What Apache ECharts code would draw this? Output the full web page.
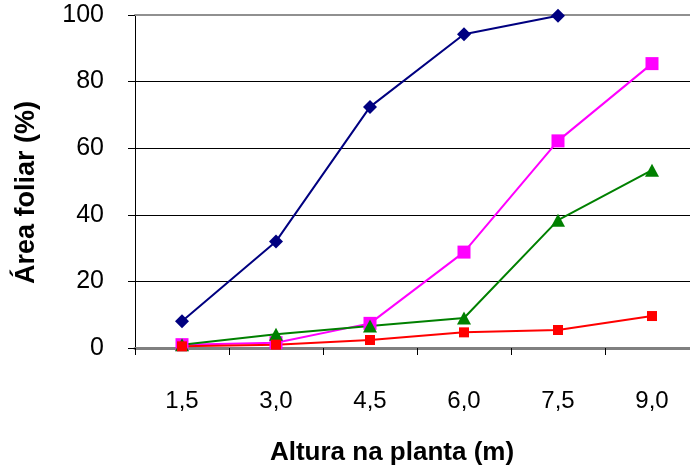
<!DOCTYPE html>
<html>
<head>
<meta charset="utf-8">
<script src="https://cdn.jsdelivr.net/npm/echarts@6/dist/echarts.min.js"></script>
<style>
  html, body { margin: 0; padding: 0; background: #ffffff; }
  #chart { width: 690px; height: 468px; }
</style>
</head>
<body>
<div id="chart"></div>
<script>
// Heights along the plant (m)
var categories = ['1,5', '3,0', '4,5', '6,0', '7,5', '9,0'];
var yTicks = [0, 20, 40, 60, 80, 100];

// Leaf area (%) per series
var serieAzul = [8, 32, 72.4, 94.2, 99.8, null];
var serieMagenta = [1, 1.6, 7.4, 28.8, 62.2, 85.4];
var serieVerde = [1, 4.1, 6.6, 9, 38.4, 53.4];
var serieVermelha = [0.5, 1, 2.4, 4.7, 5.4, 9.6];

var font = '"Liberation Sans", Arial, sans-serif';

var chart = echarts.init(document.getElementById('chart'), null, { renderer: 'canvas' });

function lineSeries(name, data, color, symbol, size) {
  return {
    name: name,
    type: 'line',
    data: data,
    symbol: symbol,
    symbolSize: size,
    showSymbol: true,
    connectNulls: false,
    lineStyle: { color: color, width: 2 },
    itemStyle: { color: color, borderWidth: 0, opacity: 1 },
    emphasis: { disabled: true },
    animation: false,
    z: 3
  };
}

chart.setOption({
  backgroundColor: '#ffffff',
  animation: false,
  grid: { left: 135, right: -9, top: 15, bottom: 120, containLabel: false, outerBoundsMode: 'none' },
  xAxis: [{
    type: 'category',
    data: categories,
    boundaryGap: true,
    position: 'bottom',
    name: 'Altura na planta (m)',
    nameLocation: 'middle',
    nameGap: 92,
    nameTextStyle: { fontFamily: font, fontSize: 26, fontWeight: 'bold', color: '#000', padding: [0, 50, 0, 0] },
    axisLine: { show: true, lineStyle: { color: '#808080', width: 3 } },
    axisTick: { show: true, alignWithLabel: false, length: 7, lineStyle: { color: '#000', width: 1 } },
    axisLabel: { margin: 41, fontFamily: font, fontSize: 24, color: '#000' },
    splitLine: { show: false }
  }, {
    type: 'category',
    data: categories,
    position: 'top',
    axisLine: { show: true, lineStyle: { color: '#909090', width: 2 } },
    axisTick: { show: false },
    axisLabel: { show: false },
    splitLine: { show: false }
  }],
  yAxis: {
    type: 'value',
    min: yTicks[0],
    max: yTicks[yTicks.length - 1],
    interval: 20,
    name: 'Área foliar (%)',
    nameLocation: 'middle',
    nameGap: 95,
    nameTextStyle: { fontFamily: font, fontSize: 27, fontWeight: 'bold', color: '#000', padding: [0, 22, 0, 0] },
    axisLine: { show: true, lineStyle: { color: '#000', width: 1 } },
    axisTick: { show: true, length: 7, lineStyle: { color: '#000', width: 1 } },
    axisLabel: { margin: 31, fontFamily: font, fontSize: 25, color: '#000' },
    splitLine: { show: true, lineStyle: { color: '#000', width: 1 } }
  },
  series: [
    lineSeries('azul', serieAzul, '#000080', 'diamond', [14, 14]),
    lineSeries('magenta', serieMagenta, '#ff00ff', 'rect', [13, 13]),
    lineSeries('verde', serieVerde, '#008000', 'triangle', [14, 13]),
    lineSeries('vermelha', serieVermelha, '#ff0000', 'rect', [10, 10])
  ]
});
</script>
</body>
</html>
